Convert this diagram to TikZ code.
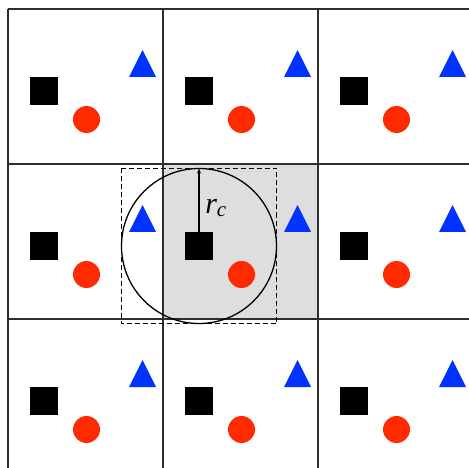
\documentclass[tikz,border=0pt]{standalone}
\usepackage{fontspec}
\setmainfont{Liberation Serif}
\usetikzlibrary{arrows.meta}
\definecolor{gridc}{HTML}{2E2E2E}
\definecolor{shadec}{HTML}{DEDEDE}
\definecolor{redc}{HTML}{FF2A00}
\definecolor{bluec}{HTML}{0033FF}
\begin{document}
\begin{tikzpicture}[x=1pt,y=-1pt,
  gridline/.style={draw=gridc,line width=1.6pt},
  sq/.style={fill=black},
  dot/.style={fill=redc},
  tri/.style={fill=bluec}]
\useasboundingbox (0,0) rectangle (469,468);
\fill[fill=shadec] (163,164) rectangle (318,319);
\foreach \x in {8,163,318} \draw[gridline] (\x,9) -- (\x,468);
\foreach \y in {9,164,319} \draw[gridline] (8,\y) -- (469,\y);
\foreach \cx in {8,163,318}{
  \foreach \cy in {9,164,319}{
    \begin{scope}[shift={(\cx,\cy)}]
      \fill[sq] (22,68) rectangle (50,96);
      \fill[dot] (78.5,110.5) circle (13.5);
      \fill[tri] (134.5,41) -- (148,68) -- (121,68) -- cycle;
    \end{scope}
  }
}
\coordinate (c) at (199,246);
\coordinate (top) at (199,168.5);
\draw[black,line width=1.3pt] (c) circle (77.5);
\draw[black,line width=1.2pt,dash pattern=on 5pt off 3pt] (121.5,168.5) rectangle (276.5,323.5);
\draw[black,line width=1.1pt,-{Stealth[length=5pt,width=4pt,open]}] (c) -- (top);
\node[inner sep=0pt] (rc) at (216,208) {\fontsize{30}{34}\selectfont\itshape r\textsubscript{c}};
\end{tikzpicture}
\end{document}
